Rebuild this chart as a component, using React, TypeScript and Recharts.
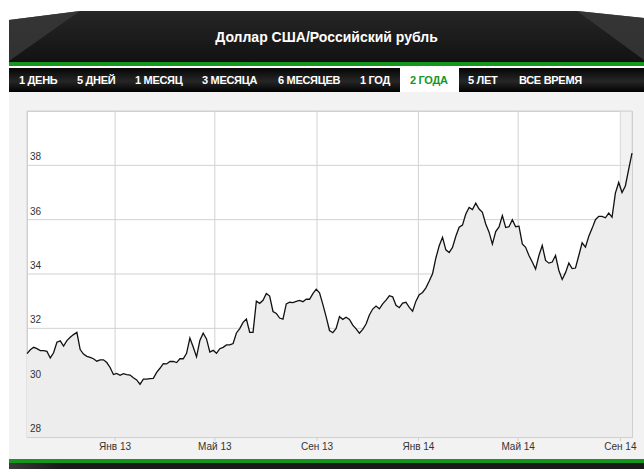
import React from "react";
import {
  AreaChart,
  Area,
  XAxis,
  YAxis,
  CartesianGrid,
  ReferenceArea,
} from "recharts";

// USD/RUB, one reading every 4 days starting 17 Sep 2012
const startDate = "2012-09-17";
const stepDays = 4;
const rates = [
  31.07, 31.21, 31.3, 31.25, 31.18, 31.18, 31.15, 30.91, 31.1, 31.49,
  31.54, 31.35, 31.55, 31.67, 31.77, 31.85, 31.22, 31.05, 30.97, 30.93,
  30.88, 30.79, 30.84, 30.84, 30.74, 30.56, 30.3, 30.34, 30.27, 30.33,
  30.3, 30.28, 30.18, 30.1, 29.94, 30.13, 30.13, 30.15, 30.16, 30.38,
  30.53, 30.7, 30.69, 30.78, 30.78, 30.74, 30.88, 30.88, 31.08, 31.64,
  31.31, 30.95, 31.55, 31.82, 31.61, 31.13, 31.19, 31.08, 31.25, 31.3,
  31.39, 31.39, 31.44, 31.83, 31.99, 32.22, 32.34, 31.85, 31.85, 33.0,
  32.92, 33.03, 33.28, 33.19, 32.62, 32.55, 32.38, 32.34, 32.9, 32.96,
  32.95, 32.99, 33.03, 32.98, 33.07, 33.07, 33.28, 33.44, 33.31, 32.88,
  32.42, 31.92, 31.84, 32.0, 32.43, 32.33, 32.41, 32.33, 32.12, 31.98,
  31.82, 31.96, 32.16, 32.49, 32.71, 32.82, 32.72, 32.9, 33.04, 33.2,
  33.16, 32.85, 32.76, 32.93, 32.96, 32.77, 32.63, 33.0, 33.24, 33.32,
  33.49, 33.74, 34.01, 34.59, 35.04, 35.35, 34.89, 34.79, 34.98, 35.39,
  35.72, 35.8, 36.21, 36.45, 36.37, 36.61, 36.39, 36.27, 35.84, 35.54,
  35.1, 35.56, 35.73, 36.15, 35.71, 35.74, 36.0, 35.74, 35.76, 35.11,
  34.98, 34.68, 34.44, 34.18, 34.68, 35.05, 34.5, 34.4, 34.44, 34.68,
  34.13, 33.8, 34.05, 34.4, 34.2, 34.22, 34.68, 35.15, 34.99, 35.39,
  35.68, 36.0, 36.12, 36.12, 36.07, 36.24, 36.09, 36.98, 37.37, 37.0,
  37.24, 37.85, 38.45,
];

const tickDates = [
  "2013-01-01",
  "2013-05-01",
  "2013-09-01",
  "2014-01-01",
  "2014-05-01",
  "2014-09-01",
];
const tickLabels = ["Янв 13", "Май 13", "Сен 13", "Янв 14", "Май 14", "Сен 14"];
const yTicks = [28, 30, 32, 34, 36, 38];

const tabs = [
  "1 ДЕНЬ",
  "5 ДНЕЙ",
  "1 МЕСЯЦ",
  "3 МЕСЯЦА",
  "6 МЕСЯЦЕВ",
  "1 ГОД",
  "2 ГОДА",
  "5 ЛЕТ",
  "ВСЕ ВРЕМЯ",
];
const tabLeft = [19, 77, 135, 202, 278, 360, 410, 468, 519];
const activeTab = "2 ГОДА";

const DAY = 86400000;
const t0 = Date.parse(startDate + "T00:00:00Z");
const data = rates.map((v, i) => ({ t: t0 + i * stepDays * DAY, v }));
const ticks = tickDates.map((d) => Date.parse(d + "T00:00:00Z"));
const tEnd = data[data.length - 1].t;

const GREEN = "#17961f";
const FONT = "Arial, 'Liberation Sans', sans-serif";

const renderYTick = (props: any) => {
  const { y, payload } = props;
  return (
    <text
      x={30}
      y={y - 5}
      fontSize={10}
      fill="#333"
      fontFamily={FONT}
      textAnchor="start"
    >
      {payload.value}
    </text>
  );
};

export default function App() {
  return (
    <div
      style={{
        position: "relative",
        width: 644,
        height: 469,
        overflow: "hidden",
        background: "#fff",
        fontFamily: FONT,
      }}
    >
      <style>{`body{margin:0;overflow:hidden}`}</style>

      {/* header */}
      <svg
        width={635}
        height={51}
        style={{ position: "absolute", left: 9, top: 11 }}
      >
        <defs>
          <linearGradient id="hd" x1="0" y1="0" x2="0" y2="1">
            <stop offset="0" stopColor="#262626" />
            <stop offset="1" stopColor="#121212" />
          </linearGradient>
        </defs>
        <polygon points="0,9 71,0 568,0 635,7 635,51 0,51" fill="url(#hd)" />
        <polygon points="0,9 71,0 0,50" fill="#3a3a3a" opacity={0.8} />
        <polygon points="568,0 635,7 635,49" fill="#3a3a3a" opacity={0.8} />
      </svg>
      <div
        style={{
          position: "absolute",
          left: 9,
          top: 29,
          width: 635,
          textAlign: "center",
          color: "#fff",
          fontWeight: "bold",
          fontSize: 14,
        }}
      >
        Доллар США/Российский рубль
      </div>
      <div
        style={{
          position: "absolute",
          left: 9,
          top: 62,
          width: 635,
          height: 4,
          background: GREEN,
        }}
      />

      {/* tab bar */}
      <div
        style={{
          position: "absolute",
          left: 9,
          top: 68,
          width: 635,
          height: 24,
          background: "linear-gradient(#050505, #262626 55%, #020202)",
        }}
      />
      <div
        style={{
          position: "absolute",
          left: 400,
          top: 68,
          width: 59,
          height: 24,
          background: "#fff",
        }}
      />
      {tabs.map((t, i) => (
        <div
          key={t}
          style={{
            position: "absolute",
            left: tabLeft[i],
            top: 73,
            whiteSpace: "nowrap",
            fontSize: 11,
            fontWeight: "bold",
            letterSpacing: -0.3,
            lineHeight: "14px",
            color: t === activeTab ? GREEN : "#fff",
          }}
        >
          {t}
        </div>
      ))}

      {/* panel */}
      <div
        style={{
          position: "absolute",
          left: 9,
          top: 92,
          width: 635,
          height: 367,
          background: "#f2f2f2",
        }}
      />
      <div
        style={{
          position: "absolute",
          left: 27,
          top: 111,
          width: 604,
          height: 325,
          background: "#fff",
          border: "1px solid #cfcfcf",
        }}
      />

      <div style={{ position: "absolute", left: 0, top: 0 }}>
        <AreaChart
          width={644}
          height={469}
          data={data}
          margin={{ top: 111, right: 12, bottom: 12, left: 0 }}
        >
          <ReferenceArea
            x1={ticks[ticks.length - 1]}
            x2={tEnd}
            fill="#e6e6e6"
            fillOpacity={0.5}
            stroke="none"
          />
          <CartesianGrid stroke="#d2d2d2" />
          <XAxis
            dataKey="t"
            type="number"
            domain={[t0, tEnd]}
            ticks={ticks}
            tickFormatter={(v: number) => tickLabels[ticks.indexOf(v)]}
            axisLine={false}
            tickLine={{ stroke: "#cfcfcf" }}
            tickSize={4}
            tickMargin={2}
            height={20}
            tick={{ fill: "#333", fontSize: 10, fontFamily: FONT }}
            interval={0}
          />
          <YAxis
            domain={[28, 40]}
            ticks={yTicks}
            width={27}
            axisLine={false}
            tickLine={false}
            tick={renderYTick}
            interval={0}
          />
          <Area
            type="linear"
            dataKey="v"
            stroke="#111"
            strokeWidth={1.3}
            fill="#ededed"
            fillOpacity={1}
            isAnimationActive={false}
            dot={false}
            activeDot={false}
          />
        </AreaChart>
      </div>

      {/* bottom bar */}
      <div
        style={{
          position: "absolute",
          left: 9,
          top: 459,
          width: 635,
          height: 4,
          background: GREEN,
        }}
      />
      <div
        style={{
          position: "absolute",
          left: 9,
          top: 463,
          width: 635,
          height: 6,
          background: "linear-gradient(90deg, #3a3a3a, #1a1a1a 8%, #1a1a1a)",
        }}
      />
    </div>
  );
}
